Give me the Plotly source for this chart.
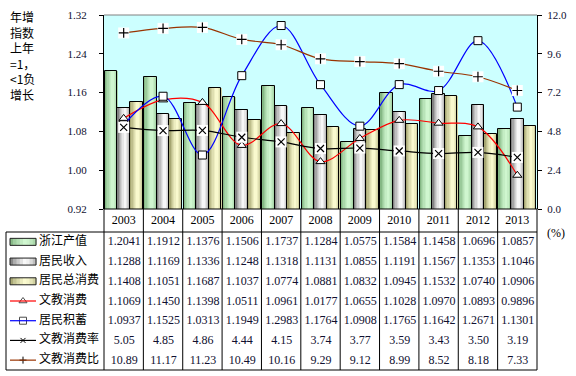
import plotly.graph_objects as go

years = ['2003', '2004', '2005', '2006', '2007', '2008', '2009', '2010', '2011', '2012', '2013']
output_idx = [1.2041, 1.1912, 1.1376, 1.1506, 1.1737, 1.1284, 1.0575, 1.1584, 1.1458, 1.0696, 1.0857]
income_idx = [1.1288, 1.1169, 1.1336, 1.1248, 1.1318, 1.1131, 1.0855, 1.1191, 1.1567, 1.1353, 1.1046]
consume_idx = [1.1408, 1.1051, 1.1687, 1.1037, 1.0774, 1.0881, 1.0832, 1.0945, 1.1532, 1.0740, 1.0906]
edu_idx = [1.1069, 1.1450, 1.1398, 1.0511, 1.0961, 1.0177, 1.0655, 1.1028, 1.0970, 1.0893, 0.9896]
savings_idx = [1.0937, 1.1525, 1.0313, 1.1949, 1.2983, 1.1764, 1.0908, 1.1765, 1.1642, 1.2671, 1.1301]
edu_rate = [5.05, 4.85, 4.86, 4.44, 4.15, 3.74, 3.77, 3.59, 3.43, 3.50, 3.19]
edu_ratio = [10.89, 11.17, 11.23, 10.49, 10.16, 9.29, 9.12, 8.99, 8.52, 8.18, 7.33]
row_labels = ['浙江产值', '居民收入', '居民总消费', '文教消费', '居民积蓄', '文教消费率', '文教消费比']
left_ticks = [0.92, 1.00, 1.08, 1.16, 1.24, 1.32]
right_ticks = [0.0, 2.4, 4.8, 7.2, 9.6, 12.0]

W, H = 576, 376
PL, PR, PT, PB = 104, 537, 15, 209


def px(x):
    return x / W


def py(y):
    return 1 - y / H


def mix(c1, c2, f):
    return 'rgb(%d,%d,%d)' % tuple(round(a + (b - a) * f) for a, b in zip(c1, c2))


xs = list(range(len(years)))
fig = go.Figure()

bar_series = [
    (output_idx, (110, 165, 110), (212, 250, 212)),
    (income_idx, (95, 95, 95), (255, 255, 255)),
    (consume_idx, (140, 140, 85), (255, 255, 212)),
]
NS = 10
bar_w = 0.32
for s, (vals, edge, center) in enumerate(bar_series):
    left = -0.48 + s * bar_w
    sw = bar_w / NS
    for k in range(NS):
        t = (k + 0.5) / NS
        f = max(0.0, 1 - abs(t - 0.6) / 0.6) ** 0.6
        fig.add_trace(go.Bar(x=xs, y=vals, offset=left + k * sw, width=sw * 1.6 if k < NS - 1 else sw,
                             marker=dict(color=mix(edge, center, f), line=dict(width=0)),
                             showlegend=False, hoverinfo='skip'))
    fig.add_trace(go.Bar(x=xs, y=vals, offset=left, width=bar_w,
                         marker=dict(color='rgba(0,0,0,0)', line=dict(color='black', width=1)),
                         showlegend=False, hoverinfo='skip'))

# left-axis lines
fig.add_trace(go.Scatter(x=xs, y=edu_idx, mode='lines+markers', line=dict(color='#FF0000', width=1.2, shape='spline'),
                         marker=dict(symbol='triangle-up', size=8, color='white', line=dict(color='black', width=1)),
                         showlegend=False, hoverinfo='skip'))
fig.add_trace(go.Scatter(x=xs, y=savings_idx, mode='lines+markers', line=dict(color='#0000FF', width=1.2, shape='spline'),
                         marker=dict(symbol='square', size=8, color='white', line=dict(color='black', width=1)),
                         showlegend=False, hoverinfo='skip'))
# right-axis lines
for vals, col, sym in [(edu_rate, '#000000', 'x-thin'), (edu_ratio, '#993300', 'cross-thin')]:
    fig.add_trace(go.Scatter(x=xs, y=vals, yaxis='y2', mode='lines', line=dict(color=col, width=1.2, shape='spline'),
                             showlegend=False, hoverinfo='skip'))
    fig.add_trace(go.Scatter(x=xs, y=vals, yaxis='y2', mode='markers',
                             marker=dict(symbol='square', size=11, color='white', line=dict(width=0, color='white')),
                             showlegend=False, hoverinfo='skip'))
    fig.add_trace(go.Scatter(x=xs, y=vals, yaxis='y2', mode='markers',
                             marker=dict(symbol=sym, size=7, color='black', line=dict(color='black', width=1.2)),
                             showlegend=False, hoverinfo='skip'))

# ---- table ----
col_w = (PR - PL) / len(years)
col_c = [PL + col_w * (i + 0.5) for i in xs]
ROW0, RH = 232, (370 - 232) / 7
row_c = [ROW0 + RH * (r + 0.5) for r in range(7)]

shapes = []
shapes.append(dict(type='rect', xref='paper', yref='paper', x0=px(PL), x1=px(PR), y0=py(PB), y1=py(PT),
                   fillcolor='#CCFFFF', line=dict(width=0), layer='below'))
shapes.append(dict(type='line', xref='paper', yref='paper', x0=px(PL), x1=px(PR), y0=py(PT), y1=py(PT),
                   line=dict(color='#808080', width=1)))
line_k = dict(color='black', width=1)
for yy, x0 in [(PB, PL), (ROW0, 6), (370, 6)]:
    shapes.append(dict(type='line', xref='paper', yref='paper', x0=px(x0), x1=px(PR), y0=py(yy), y1=py(yy), line=line_k))
shapes.append(dict(type='line', xref='paper', yref='paper', x0=px(6), x1=px(6), y0=py(ROW0), y1=py(370), line=line_k))
for i in range(len(years) + 1):
    xx = PL + col_w * i
    shapes.append(dict(type='line', xref='paper', yref='paper', x0=px(xx), x1=px(xx), y0=py(PB), y1=py(370), line=line_k))

for r, (vals, edge, center) in enumerate(bar_series):
    yc = row_c[r]
    n = 8
    for k in range(n):
        t = (k + 0.5) / n
        f = max(0.0, 1 - abs(t - 0.6) / 0.6) ** 0.6
        x0 = 10 + 26 * k / n
        shapes.append(dict(type='rect', xref='paper', yref='paper', x0=px(x0), x1=px(x0 + 26 / n + 0.5),
                           y0=py(yc + 3.5), y1=py(yc - 3.5), fillcolor=mix(edge, center, f), line=dict(width=0)))
    shapes.append(dict(type='rect', xref='paper', yref='paper', x0=px(10), x1=px(36),
                       y0=py(yc + 3.5), y1=py(yc - 3.5), line=dict(color='#202020', width=1)))
line_cols = ['#FF0000', '#0000FF', '#000000', '#993300']
for j, col in enumerate(line_cols):
    yc = row_c[3 + j]
    shapes.append(dict(type='line', xref='paper', yref='paper', x0=px(10), x1=px(36), y0=py(yc), y1=py(yc),
                       line=dict(color=col, width=1.2)))

fig.add_trace(go.Scatter(x=[23, 23], y=[row_c[3], row_c[4]], xaxis='x3', yaxis='y3', mode='markers',
                         marker=dict(symbol=['triangle-up', 'square'], size=[7, 7], color='white',
                                     line=dict(color='black', width=1)),
                         showlegend=False, hoverinfo='skip'))
fig.add_trace(go.Scatter(x=[23, 23], y=[row_c[5], row_c[6]], xaxis='x3', yaxis='y3', mode='markers',
                         marker=dict(symbol='square', size=8, color='white', line=dict(width=0, color='white')),
                         showlegend=False, hoverinfo='skip'))
fig.add_trace(go.Scatter(x=[23, 23], y=[row_c[5], row_c[6]], xaxis='x3', yaxis='y3', mode='markers',
                         marker=dict(symbol=['x-thin', 'cross-thin'], size=5, color='black',
                                     line=dict(color='black', width=1)),
                         showlegend=False, hoverinfo='skip'))

fig.add_trace(go.Scatter(x=[39] * 7, y=row_c, xaxis='x3', yaxis='y3', mode='text', text=row_labels,
                         textposition='middle right',
                         textfont=dict(family='Noto Sans CJK SC', size=12, color='black'),
                         showlegend=False, hoverinfo='skip'))
fig.add_trace(go.Scatter(x=col_c, y=[220.5] * len(years), xaxis='x3', yaxis='y3', mode='text', text=years,
                         textfont=dict(family='Liberation Serif', size=12, color='black'),
                         showlegend=False, hoverinfo='skip'))
table_rows = [
    ['%.4f' % v for v in output_idx],
    ['%.4f' % v for v in income_idx],
    ['%.4f' % v for v in consume_idx],
    ['%.4f' % v for v in edu_idx],
    ['%.4f' % v for v in savings_idx],
    ['%.2f' % v for v in edu_rate],
    ['%.2f' % v for v in edu_ratio],
]
tx, ty, tt = [], [], []
for r, row in enumerate(table_rows):
    for i, s in enumerate(row):
        tx.append(col_c[i] + 0.5)
        ty.append(row_c[r] + 0.5)
        tt.append(s)
fig.add_trace(go.Scatter(x=tx, y=ty, xaxis='x3', yaxis='y3', mode='text', text=tt,
                         textfont=dict(family='Liberation Serif', size=12, color='#101030'),
                         showlegend=False, hoverinfo='skip'))

annotations = [
    dict(text='年增<br>指数<br>上年<br>=1，<br><1负<br>增长', xref='paper', yref='paper', x=px(8), y=py(6),
         xanchor='left', yanchor='top', showarrow=False, align='left',
         font=dict(family='Noto Sans CJK SC', size=12, color='black')),
    dict(text='(%)', xref='paper', yref='paper', x=px(545), y=py(233), xanchor='left', yanchor='middle',
         showarrow=False, font=dict(family='Liberation Serif', size=12, color='black')),
]

fig.update_layout(
    width=W, height=H,
    margin=dict(l=0, r=0, t=0, b=0, pad=0),
    paper_bgcolor='white', plot_bgcolor='rgba(0,0,0,0)',
    barmode='overlay', bargap=0,
    shapes=shapes, annotations=annotations,
    xaxis=dict(domain=[px(PL), px(PR)], range=[-0.5, len(years) - 0.5], showticklabels=False,
               showgrid=False, zeroline=False, ticks='', showline=False, fixedrange=True),
    yaxis=dict(domain=[py(PB), py(PT)], range=[0.92, 1.32], tickvals=left_ticks,
               ticktext=['%.2f' % v for v in left_ticks], showgrid=False, zeroline=False,
               showline=True, linecolor='black', linewidth=1, ticks='outside', ticklen=4, tickcolor='black',
               ticklabelstandoff=10,
               tickfont=dict(family='Liberation Serif', size=11, color='#101030'), automargin=False),
    yaxis2=dict(overlaying='y', side='right', range=[0, 12], tickvals=right_ticks,
                ticktext=['%.1f' % v for v in right_ticks], showgrid=False, zeroline=False,
                showline=True, linecolor='black', linewidth=1, ticks='outside', ticklen=4, tickcolor='black',
                ticklabelstandoff=3,
                tickfont=dict(family='Liberation Serif', size=11, color='#101030'), automargin=False),
    xaxis3=dict(domain=[0, 1], range=[0, W], visible=False, fixedrange=True, anchor='y3'),
    yaxis3=dict(domain=[0, 1], range=[H, 0], visible=False, fixedrange=True, anchor='x3'),
    showlegend=False,
)

fig.write_html('out.html', config={'displayModeBar': False},
               post_script="document.body.style.margin='0px';")
